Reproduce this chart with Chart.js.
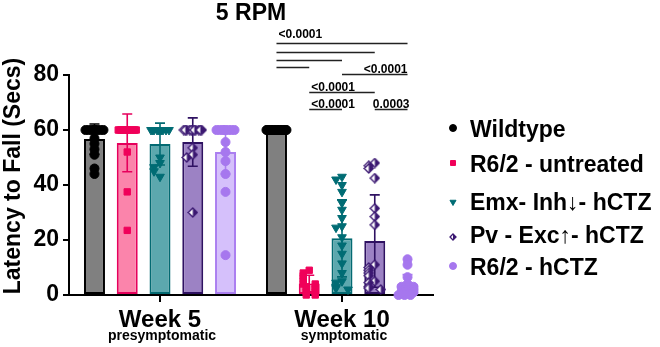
<!DOCTYPE html>
<html>
<head>
<meta charset="utf-8">
<script src="https://cdn.jsdelivr.net/npm/chart.js@4.4.1/dist/chart.umd.min.js"></script>
<style>
  html, body { margin: 0; padding: 0; background: #fff; }
</style>
</head>
<body>
<canvas id="rotarod" width="660" height="347"></canvas>
<script>
const weeks = ['Week 5', 'Week 10'];
const stages = ['presymptomatic', 'symptomatic'];
const groups = ['Wildtype', 'R6/2 - untreated', 'Emx- Inh\u2193- hCTZ', 'Pv - Exc\u2191- hCTZ', 'R6/2 - hCTZ'];

// bar = mean, whisker = SD  ([week 5, week 10])
const wildtypeMean = [56.7, 60];
const untreatedMean = [55.3, 4.2];
const emxMean = [54.9, 20.6];
const pvMean = [55.6, 19.6];
const hctzMean = [52.0, 3.8];

const wildtypeSd = [5.5, 0.4];
const untreatedSd = [10.5, 3.0];
const emxSd = [7.6, 14];
const pvSd = [8.8, 16.8];
const hctzSd = [8, 3.6];

// single animals
const wildtypeWk5 = [60, 60, 60, 60, 60, 60, 60, 60, 60, 57, 55, 53, 51, 46, 44];
const wildtypeWk10 = [60, 60, 60, 60, 60, 60, 60, 60, 60, 60, 60, 60, 60, 60, 60];
const untreatedWk5 = [60, 60, 60, 60, 60, 60, 60, 60, 60, 60, 60, 60, 52, 37.5, 23.5];
const untreatedWk10 = [9, 8, 7, 6, 5, 4, 4, 3, 3, 2, 2, 1, 1, 0, 0];
const emxWk5 = [60, 60, 60, 60, 60, 60, 60, 60, 60, 60, 50, 48, 46.5, 45, 43];
const emxWk10 = [43, 42, 40, 37.5, 33.5, 31, 28, 25, 24.5, 21, 18, 15, 11.5, 8, 5, 4.5, 3, 2.5, 2];
const pvWk5 = [60, 60, 60, 60, 60, 60, 60, 60, 60, 60, 60, 53.5, 51, 50, 30];
const pvWk10 = [48, 47, 46, 42.5, 31.5, 28.5, 25.5, 11, 10, 9, 8, 7, 5, 4.5, 3, 2.5, 2];
const hctzWk5 = [60, 60, 60, 60, 60, 60, 60, 60, 55.6, 52, 48.7, 44, 37.5, 14.5];
const hctzWk10 = [13, 11, 6.5, 4, 3, 3, 2, 2, 1, 1, 0.5, 0, 0, 0];

// week 10 comparisons: [from group, to group], line height (secs), p value
const sigPairs = [[0, 4], [0, 3], [0, 2], [0, 1], [2, 4], [1, 3], [1, 2], [3, 4]];
const sigHeights = [91.6, 88.4, 85.5, 82.9, 80.4, 73.8, 67.6, 67.6];
const sigLabels = ['<0.0001', '', '', '', '<0.0001', '<0.0001', '<0.0001', '0.0003'];
const sigAlign = ['left', '', '', '', 'right', 'left', 'left', 'center'];

const FONT = '"Liberation Sans", Arial, Helvetica, sans-serif';
const GROUP_W = 0.9;     // share of a week's slot used by the 5 bars
const BAR_PCT = 0.64;

function halfDiamond(size, color) {
  const c = document.createElement('canvas');
  c.width = size; c.height = size;
  const g = c.getContext('2d');
  const h = size / 2;
  g.beginPath();
  g.moveTo(h, 1); g.lineTo(size - 1, h); g.lineTo(h, size - 1); g.lineTo(1, h); g.closePath();
  g.fillStyle = '#fff'; g.fill();
  g.beginPath();
  g.moveTo(h, 1); g.lineTo(size - 1, h); g.lineTo(h, size - 1); g.closePath();
  g.fillStyle = color; g.fill();
  g.beginPath();
  g.moveTo(h, 1); g.lineTo(size - 1, h); g.lineTo(h, size - 1); g.lineTo(1, h); g.closePath();
  g.strokeStyle = color; g.lineWidth = 1.3; g.stroke();
  return c;
}

const pvMark = halfDiamond(11, '#3b1872');
const pvMarkSmall = halfDiamond(8, '#3b1872');

const styles = [
  { fill: '#808080', edge: '#000000', dot: '#000000', shape: 'circle', r: 4.5, rot: 0 },
  { fill: '#fb84ab', edge: '#e6005c', dot: '#f0005a', shape: 'rect', r: 4.5, rot: 0 },
  { fill: '#5ca8ae', edge: '#036a72', dot: '#006c74', shape: 'triangle', r: 5, rot: 180 },
  { fill: '#9c82c4', edge: '#2f1262', dot: '#3b1872', shape: pvMark, r: 5, rot: 0 },
  { fill: '#d5c0fb', edge: '#ab7ff0', dot: '#a677ee', shape: 'circle', r: 4.5, rot: 0 }
];

const means = [wildtypeMean, untreatedMean, emxMean, pvMean, hctzMean];
const sds = [wildtypeSd, untreatedSd, emxSd, pvSd, hctzSd];
const animals = [
  [wildtypeWk5, wildtypeWk10],
  [untreatedWk5, untreatedWk10],
  [emxWk5, emxWk10],
  [pvWk5, pvWk10],
  [hctzWk5, hctzWk10]
];

function slotX(g, w) {
  return w + (g - 2) * (GROUP_W / 5);
}

// spread of crowded points across the bar (pixels)
const spread = [0, -6, 6, -3, 3, -9, 9, -1.5, 1.5, -7.5, 7.5, -4.5, 4.5, -10, 10];
const catPx = 182;

function pointsFor(g) {
  const out = [];
  animals[g].forEach((vals, w) => {
    const centre = slotX(g, w);
    vals.forEach((v, i) => {
      let k = 0;
      for (let j = 0; j < i; j++) if (Math.abs(vals[j] - v) < 2) k++;
      out.push({ x: centre + spread[k % spread.length] / catPx, y: v });
    });
  });
  return out;
}

const barSets = groups.map((name, g) => ({
  type: 'bar',
  label: name,
  data: weeks.map((wk, w) => ({ x: slotX(g, w), y: means[g][w] })),
  sd: sds[g],
  xAxisID: 'px',
  grouped: false,
  backgroundColor: styles[g].fill,
  borderColor: styles[g].edge,
  borderWidth: 2,
  borderSkipped: false,
  categoryPercentage: 1,
  barPercentage: BAR_PCT,
  order: 2
}));

const dotSets = groups.map((name, g) => ({
  type: 'scatter',
  label: name + ' animals',
  data: pointsFor(g),
  xAxisID: 'px',
  showLine: false,
  pointStyle: styles[g].shape,
  pointRotation: styles[g].rot,
  pointRadius: styles[g].r,
  backgroundColor: styles[g].dot,
  borderColor: styles[g].dot,
  borderWidth: 1,
  clip: false,
  order: 1
}));

function txt(ctx, s, x, y, size, align, base) {
  ctx.font = 'bold ' + size + 'px ' + FONT;
  ctx.textAlign = align || 'center';
  ctx.textBaseline = base || 'alphabetic';
  ctx.fillStyle = '#000';
  ctx.fillText(s, x, y);
}

const extras = {
  id: 'extras',
  afterDatasetDraw(chart, args) {
    if (args.meta.type !== 'bar') return;
    const ds = chart.data.datasets[args.index];
    const y = chart.scales.y;
    const ctx = chart.ctx;
    ctx.save();
    ctx.strokeStyle = ds.borderColor;
    ctx.lineWidth = 1.6;
    args.meta.data.forEach((bar, i) => {
      const m = ds.data[i].y, s = ds.sd[i];
      const top = y.getPixelForValue(m + s);
      const bot = y.getPixelForValue(Math.max(0, m - s));
      ctx.beginPath();
      ctx.moveTo(bar.x, bot); ctx.lineTo(bar.x, top);
      ctx.moveTo(bar.x - 5, top); ctx.lineTo(bar.x + 5, top);
      ctx.moveTo(bar.x - 5, bot); ctx.lineTo(bar.x + 5, bot);
      ctx.stroke();
    });
    ctx.restore();
  },
  afterDraw(chart) {
    const ctx = chart.ctx;
    const area = chart.chartArea;
    const x = chart.scales.x;
    const y = chart.scales.y;
    ctx.save();

    txt(ctx, '5 RPM', (area.left + area.right) / 2, 20, 23);

    ctx.save();
    ctx.translate(14, 176);
    ctx.rotate(-Math.PI / 2);
    txt(ctx, 'Latency to Fall (Secs)', 0, 0, 23, 'center', 'middle');
    ctx.restore();

    // x tick marks + week labels
    ctx.strokeStyle = '#000';
    ctx.lineWidth = 2;
    weeks.forEach((w, i) => {
      const cx = x.getPixelForTick(i);
      ctx.beginPath();
      ctx.moveTo(cx, area.bottom);
      ctx.lineTo(cx, area.bottom + 7);
      ctx.stroke();
      txt(ctx, w, cx, 327, 24);
      txt(ctx, stages[i], cx + 2, 340, 14);
    });

    // significance brackets over week 10
    ctx.strokeStyle = '#222';
    ctx.lineWidth = 1.5;
    sigPairs.forEach((p, i) => {
      const x1 = chart.getDatasetMeta(p[0]).data[1].x;
      const x2 = chart.getDatasetMeta(p[1]).data[1].x;
      const ly = Math.round(y.getPixelForValue(sigHeights[i])) + 0.5;
      ctx.beginPath();
      ctx.moveTo(x1, ly); ctx.lineTo(x2, ly);
      ctx.stroke();
      if (sigLabels[i]) {
        const a = sigAlign[i];
        const tx = a === 'left' ? x1 + 2 : a === 'right' ? x2 : (x1 + x2) / 2;
        txt(ctx, sigLabels[i], tx, ly - (i === 0 ? 6 : 2), 12, a);
      }
    });

    // legend
    const rowBase = [137, 172, 210, 243, 275];
    const rowMark = [128, 163, 202, 237, 266];
    groups.forEach((name, g) => {
      const st = styles[g];
      ctx.fillStyle = st.dot;
      ctx.strokeStyle = st.dot;
      ctx.lineWidth = 1;
      Chart.helpers.drawPoint(ctx, {
        pointStyle: g === 3 ? pvMarkSmall : st.shape,
        radius: g === 3 ? 4 : 3.5,
        rotation: st.rot,
        borderWidth: 1
      }, 453, rowMark[g]);
      txt(ctx, name, 470, rowBase[g], 23, 'left');
    });

    ctx.restore();
  }
};

Chart.defaults.font.family = FONT;

new Chart(document.getElementById('rotarod'), {
  type: 'bar',
  data: {
    labels: weeks,
    datasets: barSets.concat(dotSets)
  },
  options: {
    responsive: false,
    animation: false,
    devicePixelRatio: 1,
    layout: { padding: { top: 75, right: 227, bottom: 0, left: 0 } },
    plugins: {
      legend: { display: false },
      tooltip: { enabled: false }
    },
    scales: {
      x: {
        type: 'category',
        offset: true,
        afterFit(s) { s.height = 52; },
        ticks: { display: false },
        grid: { display: false },
        border: { display: true, color: '#000', width: 2 }
      },
      px: {
        type: 'linear',
        axis: 'x',
        display: false,
        offset: false,
        min: -0.5,
        max: 1.5,
        ticks: { stepSize: 1 }
      },
      y: {
        min: 0,
        max: 80,
        afterFit(s) { s.width = 69; },
        ticks: { stepSize: 20, color: '#000', font: { size: 23, weight: 'bold' }, padding: 4 },
        grid: { drawOnChartArea: false, color: '#000', lineWidth: 2, tickLength: 6 },
        border: { color: '#000', width: 2 }
      }
    }
  },
  plugins: [extras]
});
</script>
</body>
</html>
